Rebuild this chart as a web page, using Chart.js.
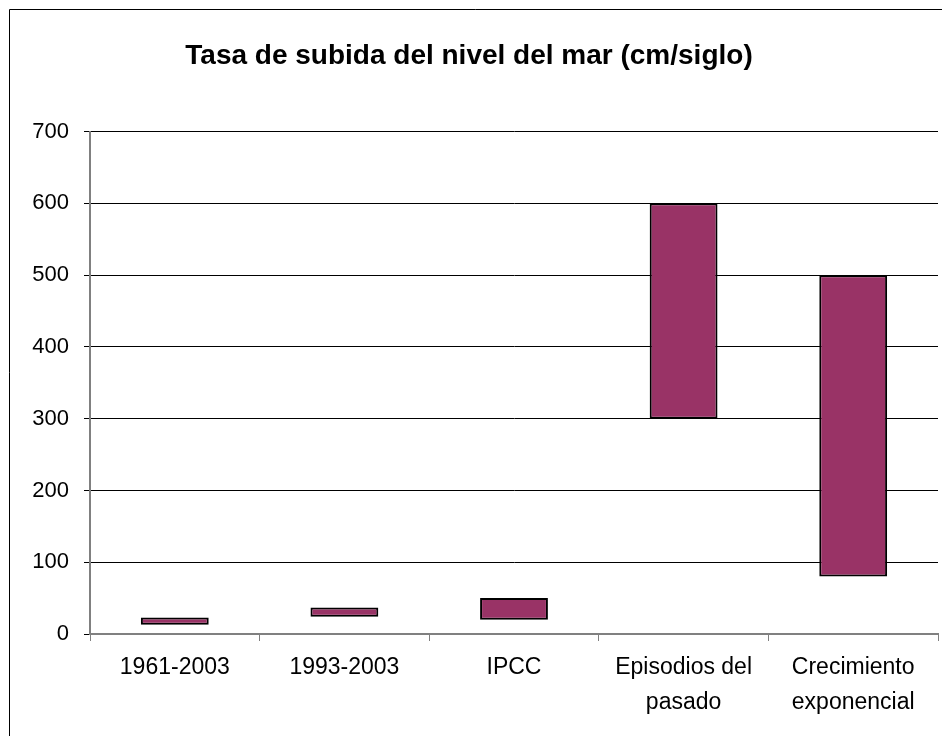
<!DOCTYPE html>
<html>
<head>
<meta charset="utf-8">
<script src="https://cdn.jsdelivr.net/npm/chart.js@4/dist/chart.umd.min.js"></script>
<style>
  html, body { margin: 0; padding: 0; background: #fff; }
  #wrap { width: 942px; height: 736px; position: relative; }
</style>
</head>
<body>
<div id="wrap"><canvas id="chart" width="942" height="736"></canvas></div>
<script>
// ── DATA ──────────────────────────────────────────────────────────────────────
const categories = ['1961-2003', '1993-2003', 'IPCC', ['Episodios del', 'pasado'], ['Crecimiento', 'exponencial']];
const lowValues  = [13, 24, 20, 300, 80];
const highValues = [23, 37, 50, 600, 500];
const yTicks = [0, 100, 200, 300, 400, 500, 600, 700];

const FONT = "'Liberation Sans', Arial, sans-serif";

// frame line round the chart (top and left edges visible)
const framePlugin = {
  id: 'frame',
  beforeDraw(chart) {
    const ctx = chart.ctx;
    ctx.save();
    ctx.fillStyle = '#fff';
    ctx.fillRect(0, 0, chart.width, chart.height);
    ctx.strokeStyle = '#000';
    ctx.lineWidth = 1;
    ctx.beginPath();
    ctx.moveTo(9.5, chart.height);
    ctx.lineTo(9.5, 9.5);
    ctx.lineTo(chart.width, 9.5);
    ctx.stroke();
    ctx.restore();
  }
};

new Chart(document.getElementById('chart'), {
  type: 'bar',
  data: {
    labels: categories,
    datasets: [{
      label: 'Tasa',
      data: lowValues.map((lo, i) => [lo, highValues[i]]),
      backgroundColor: '#993366',
      borderColor: '#000',
      borderWidth: 2,
      borderSkipped: false,
      barPercentage: 0.8,
      categoryPercentage: 0.5
    }]
  },
  options: {
    responsive: false,
    animation: false,
    layout: { padding: { left: 0, right: 4, top: 0, bottom: 0 } },
    plugins: {
      legend: { display: false },
      tooltip: { enabled: false },
      title: {
        display: true,
        text: 'Tasa de subida del nivel del mar (cm/siglo)',
        color: '#000',
        font: { family: FONT, size: 28, weight: 'bold', lineHeight: 1.2 },
        padding: { top: 39, bottom: 59 }
      }
    },
    scales: {
      x: {
        offset: true,
        grid: { offset: true, drawOnChartArea: false, color: '#808080', tickLength: 7, lineWidth: 1 },
        border: { color: '#808080', width: 2 },
        ticks: { color: '#000', font: { family: FONT, size: 23, lineHeight: 1.53 }, padding: 9, maxRotation: 0, autoSkip: false },
        afterFit(scale) { scale.height = 102; }
      },
      y: {
        min: 0,
        max: 700,
        afterBuildTicks(scale) { scale.ticks = yTicks.map(v => ({ value: v })); },
        grid: { color: '#000', lineWidth: 1, tickLength: 6 },
        border: { color: '#808080', width: 2 },
        ticks: { color: '#000', font: { family: FONT, size: 22 }, padding: 15 },
        afterFit(scale) { scale.width = 90; }
      }
    }
  },
  plugins: [framePlugin]
});
</script>
</body>
</html>
